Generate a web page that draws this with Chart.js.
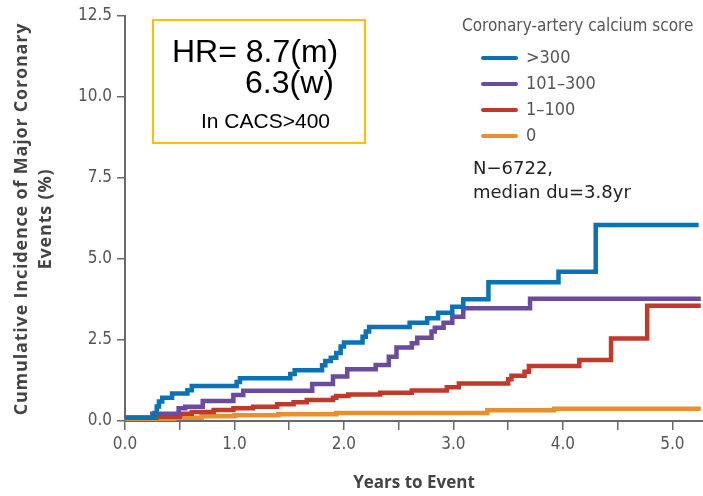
<!DOCTYPE html>
<html>
<head>
<meta charset="utf-8">
<script src="https://cdn.jsdelivr.net/npm/chart.js@4/dist/chart.umd.min.js"></script>
<style>
  html, body { margin: 0; padding: 0; background: #fff; }
  #wrap { width: 703px; height: 496px; position: relative; }
</style>
</head>
<body>
<div id="wrap"><canvas id="chart" width="703" height="496"></canvas></div>
<script>
// step curves: years to event, cumulative incidence (%)
const seriesLabels = [">300", "101\u2013300", "1\u2013100", "0"];
const seriesColors = ["#0a72b5", "#6a4b9e", "#c0392b", "#e8902e"];

const blueYears = [0, 0.27, 0.29, 0.31, 0.34, 0.43, 0.57, 0.61, 1.02, 1.05, 1.51, 1.55, 1.8, 1.83, 1.88, 1.93, 1.97, 2.0, 2.17, 2.2, 2.23, 2.6, 2.76, 2.86, 2.99, 3.09, 3.32, 3.96, 4.30, 5.24];
const blueValues = [0.1, 0.25, 0.45, 0.6, 0.72, 0.85, 0.95, 1.08, 1.2, 1.32, 1.45, 1.57, 1.72, 1.85, 1.95, 2.1, 2.3, 2.42, 2.6, 2.76, 2.9, 3.03, 3.17, 3.34, 3.53, 3.76, 4.28, 4.61, 6.05, 6.05];

const purpleYears = [0, 0.25, 0.49, 0.55, 0.71, 0.99, 1.08, 1.71, 1.9, 2.03, 2.29, 2.41, 2.48, 2.62, 2.67, 2.80, 2.83, 2.91, 2.99, 3.09, 3.70, 5.26];
const purpleValues = [0.1, 0.22, 0.39, 0.44, 0.62, 0.8, 0.93, 1.14, 1.37, 1.6, 1.73, 1.98, 2.27, 2.4, 2.57, 2.76, 2.88, 3.03, 3.22, 3.48, 3.77, 3.77];

const redYears = [0, 0.29, 0.5, 0.61, 0.81, 0.99, 1.17, 1.39, 1.54, 1.66, 1.9, 1.93, 2.04, 2.33, 2.62, 2.94, 3.05, 3.50, 3.53, 3.65, 3.69, 4.15, 4.44, 4.77, 5.26];
const redValues = [0.1, 0.13, 0.22, 0.28, 0.34, 0.39, 0.44, 0.52, 0.58, 0.65, 0.72, 0.77, 0.82, 0.87, 0.94, 1.04, 1.16, 1.29, 1.4, 1.52, 1.7, 1.88, 2.55, 3.56, 3.56];

const orangeYears = [0, 0.3, 0.45, 0.7, 1.0, 1.4, 1.93, 3.31, 3.92, 5.26];
const orangeValues = [0.05, 0.06, 0.1, 0.15, 0.18, 0.21, 0.25, 0.33, 0.38, 0.38];

const yTicks = [0, 2.5, 5, 7.5, 10, 12.5];
const xLabelTicks = [0, 1, 2, 3, 4, 5];

const toPoints = (xs, ys) => xs.map((x, i) => ({ x: x, y: ys[i] }));
const allSeries = [
    toPoints(blueYears, blueValues),
    toPoints(purpleYears, purpleValues),
    toPoints(redYears, redValues),
    toPoints(orangeYears, orangeValues),
];

const tickFont = { family: "DejaVu Sans Condensed", size: 17 };
const axisGrey = "#6a6a6a";

// titles, legend and text boxes
const overlay = {
    id: "overlay",
    afterDraw(chart) {
        const ctx = chart.ctx;
        ctx.save();

        // y axis title, two rotated lines
        ctx.fillStyle = "#444";
        ctx.font = "bold 18px 'Open Sans'";
        ctx.letterSpacing = "0.8px";
        ctx.textAlign = "center";
        ctx.textBaseline = "middle";
        ctx.save();
        ctx.translate(22, 219);
        ctx.rotate(-Math.PI / 2);
        ctx.fillText("Cumulative Incidence of Major Coronary", 0, 0);
        ctx.restore();
        ctx.save();
        ctx.translate(46, 219);
        ctx.rotate(-Math.PI / 2);
        ctx.fillText("Events (%)", 0, 0);
        ctx.restore();

        // x axis title
        ctx.letterSpacing = "0px";
        ctx.font = "bold 17px 'Open Sans'";
        ctx.fillText("Years to Event", 414, 483);

        // legend
        ctx.textAlign = "left";
        ctx.fillStyle = "#555";
        ctx.font = "17px 'DejaVu Sans Condensed'";
        ctx.fillText("Coronary-artery calcium score", 462, 27);
        const rowY = [58, 84, 110, 136];
        seriesLabels.forEach((lab, i) => {
            ctx.strokeStyle = seriesColors[i];
            ctx.lineWidth = 4;
            ctx.lineCap = "round";
            ctx.beginPath();
            ctx.moveTo(483, rowY[i]);
            ctx.lineTo(516, rowY[i]);
            ctx.stroke();
            ctx.fillStyle = "#555";
            ctx.font = "18px 'DejaVu Sans Condensed'";
            ctx.fillText(lab, 526, rowY[i]);
        });

        ctx.fillStyle = "#222";
        ctx.font = "18px 'DejaVu Sans'";
        ctx.textBaseline = "alphabetic";
        ctx.fillText("N\u22126722,", 473, 174);
        ctx.fillText("median du=3.8yr", 473, 198);

        // HR box
        ctx.strokeStyle = "#ffc000";
        ctx.lineWidth = 2;
        ctx.strokeRect(153, 20, 212, 123);
        ctx.fillStyle = "#000";
        ctx.font = "32px 'Liberation Sans'";
        ctx.fillText("HR= 8.7(m)", 172, 62);
        ctx.fillText("6.3(w)", 245, 93);
        ctx.font = "21px 'Liberation Sans'";
        ctx.fillText("In CACS>400", 201, 128);

        ctx.restore();
    },
};

new Chart(document.getElementById("chart"), {
    type: "line",
    data: {
        datasets: allSeries.map((pts, i) => ({
            label: seriesLabels[i],
            data: pts,
            borderColor: seriesColors[i],
            backgroundColor: seriesColors[i],
            borderWidth: 4.5,
            stepped: true,
            pointRadius: 0,
            fill: false,
            order: i,
        })),
    },
    options: {
        responsive: false,
        animation: false,
        layout: { padding: { top: 16, right: 0, left: 0, bottom: 0 } },
        plugins: {
            legend: { display: false },
            tooltip: { enabled: false },
        },
        scales: {
            x: {
                type: "linear",
                min: 0,
                max: 5.28,
                afterFit(scale) { scale.height = 75; },
                border: { display: true, color: axisGrey, width: 2 },
                grid: { drawOnChartArea: false, drawTicks: true, tickLength: 9, color: axisGrey, lineWidth: 1.5 },
                ticks: {
                    stepSize: 0.5,
                    includeBounds: false,
                    maxRotation: 0,
                    autoSkip: false,
                    padding: 4,
                    color: "#555",
                    font: tickFont,
                    callback: (v) => (xLabelTicks.includes(v) ? v.toFixed(1) : ""),
                },
            },
            y: {
                min: 0,
                max: 12.5,
                afterFit(scale) { scale.width = 125; },
                afterBuildTicks(scale) { scale.ticks = yTicks.map((v) => ({ value: v })); },
                border: { display: true, color: axisGrey, width: 2 },
                grid: { drawOnChartArea: false, drawTicks: true, tickLength: 8, color: axisGrey, lineWidth: 1.5 },
                ticks: {
                    padding: 5,
                    color: "#555",
                    font: tickFont,
                    callback: (v) => v.toFixed(1),
                },
            },
        },
    },
    plugins: [overlay],
});
</script>
</body>
</html>
